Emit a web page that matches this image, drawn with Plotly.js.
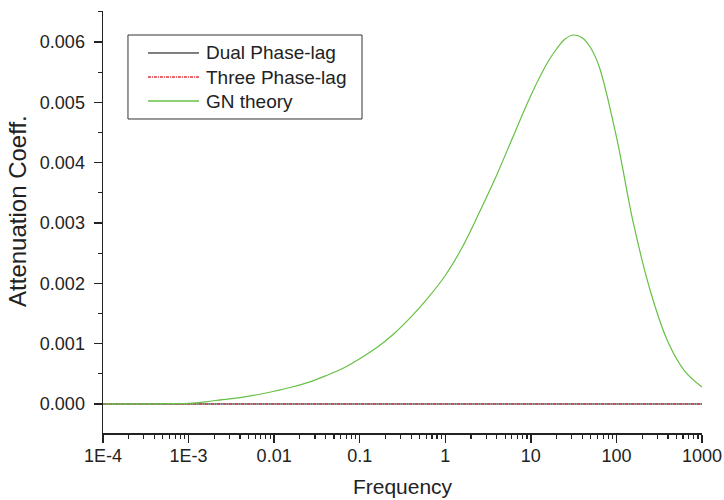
<!DOCTYPE html>
<html>
<head>
<meta charset="utf-8">
<script src="https://cdn.plot.ly/plotly-3.0.1.min.js"></script>
<style>
  html, body { margin: 0; padding: 0; background: #ffffff; }
  #chart { width: 724px; height: 500px; }
</style>
</head>
<body>
<div id="chart"></div>
<script>
// Frequency grid (log-spaced, ~0.2 decade apart) and attenuation coefficient per model
const freq = [1e-4, 1.585e-4, 2.512e-4, 3.981e-4, 6.310e-4,
              1e-3, 1.585e-3, 2.512e-3, 3.981e-3, 6.310e-3,
              0.01, 0.01585, 0.02512, 0.03981, 0.0631,
              0.1, 0.1585, 0.2512, 0.3981, 0.631,
              1, 1.585, 2.512, 3.981, 6.31,
              10, 15.85, 19.95, 25.12, 31.62, 39.81, 50.12, 63.1,
              100, 158.5, 251.2, 398.1, 631, 1000];
const dualPhaseLag  = freq.map(() => 0);
const threePhaseLag = freq.map(() => 0);
const gnTheory = [0, 0.0000005, 0.000001, 0.000002, 0.000005,
                  0.0000116, 0.0000365, 0.0000729, 0.000106, 0.0001525,
                  0.0002105, 0.000277, 0.000358, 0.000466, 0.000587,
                  0.000750, 0.000935, 0.001165, 0.001444, 0.001764,
                  0.002130, 0.002602, 0.003182, 0.003792, 0.004459,
                  0.005115, 0.005672, 0.005884, 0.006050, 0.006116, 0.006072, 0.005901, 0.005586,
                  0.004426, 0.002984, 0.001856, 0.001036, 0.000542, 0.000282];

const seriesNames = ['Dual Phase-lag', 'Three Phase-lag', 'GN theory'];
const seriesColors = ['#000000', '#e0353f', '#66c144'];
const seriesDash = ['solid', '3px,1px,1px,1px', 'solid'];
const seriesWidth = [0.8, 1.5, 1.2];

const xTickVals = [1e-4, 1e-3, 0.01, 0.1, 1, 10, 100, 1000];
const xTickText = ['1E-4', '1E-3', '0.01', '0.1', '1', '10', '100', '1000'];

// minor ticks at 2..9 of every decade
const xMinor = [];
for (let e = -4; e < 3; e++) {
  for (let m = 2; m <= 9; m++) xMinor.push(m * Math.pow(10, e));
}

const FONT = 'Liberation Sans, Arial, sans-serif';
const INK = '#222222';

const seriesY = [dualPhaseLag, threePhaseLag, gnTheory];
const traces = seriesY.map((ys, i) => ({
  x: freq, y: ys, name: seriesNames[i], mode: 'lines',
  line: { color: seriesColors[i], width: seriesWidth[i], dash: seriesDash[i],
          shape: i === 2 ? 'spline' : 'linear', smoothing: 1 }
}));

// boxed key in the upper-left corner of the plot area
const key = { x0: 0.0417, x1: 0.4324, y0: 0.7441, y1: 0.9431,
              lineX0: 0.0751, lineX1: 0.1603, textX: 0.1686,
              rows: [0.9005, 0.8436, 0.7867] };

const shapes = [{
  type: 'rect', xref: 'paper', yref: 'paper',
  x0: key.x0, x1: key.x1, y0: key.y0, y1: key.y1,
  line: { color: '#333333', width: 1 }, fillcolor: '#ffffff', layer: 'above'
}];
const annotations = [];
seriesNames.forEach((name, i) => {
  shapes.push({
    type: 'line', xref: 'paper', yref: 'paper',
    x0: key.lineX0, x1: key.lineX1, y0: key.rows[i], y1: key.rows[i],
    line: { color: seriesColors[i], width: i === 0 ? 1 : 1.5, dash: seriesDash[i] }, layer: 'above'
  });
  annotations.push({
    xref: 'paper', yref: 'paper', x: key.textX, y: key.rows[i],
    xanchor: 'left', yanchor: 'middle', showarrow: false, text: name,
    font: { family: FONT, size: 19, color: INK }
  });
});

// vertical axis caption, set a little above the plot's mid-height
annotations.push({
  xref: 'paper', yref: 'paper', x: -0.143, y: 0.527,
  xanchor: 'center', yanchor: 'middle', showarrow: false, textangle: -90,
  text: 'Attenuation Coeff.', font: { family: FONT, size: 24, color: INK }
});

const layout = {
  width: 724, height: 500,
  margin: { l: 103, r: 22, t: 11, b: 67 },
  paper_bgcolor: '#ffffff', plot_bgcolor: '#ffffff',
  font: { family: FONT, size: 18, color: INK },
  showlegend: false,
  shapes: shapes,
  annotations: annotations,
  xaxis: {
    type: 'log', range: [-4, 3],
    tickmode: 'array', tickvals: xTickVals, ticktext: xTickText,
    ticks: 'outside', ticklen: 8, tickwidth: 1.5, tickcolor: INK,
    minor: { tickmode: 'array', tickvals: xMinor, ticks: 'outside', ticklen: 4, tickwidth: 1.2, tickcolor: INK, showgrid: false },
    showline: true, linecolor: INK, linewidth: 1.5,
    showgrid: false, zeroline: false,
    ticklabelstandoff: -2,
    tickfont: { family: FONT, size: 18, color: INK },
    title: { text: 'Frequency', font: { family: FONT, size: 21, color: INK }, standoff: 14 }
  },
  yaxis: {
    range: [-0.000481, 0.006514],
    tickmode: 'linear', tick0: 0, dtick: 0.001, tickformat: '.3f',
    ticks: 'outside', ticklen: 8, tickwidth: 1.5, tickcolor: INK,
    minor: { dtick: 0.0005, ticks: 'outside', ticklen: 4, tickwidth: 1.2, tickcolor: INK, showgrid: false },
    showline: true, linecolor: INK, linewidth: 1.5,
    showgrid: false, zeroline: false,
    ticklabelstandoff: 5,
    tickfont: { family: FONT, size: 18, color: INK }
  }
};

Plotly.newPlot('chart', traces, layout, { displayModeBar: false, staticPlot: true });
</script>
</body>
</html>
